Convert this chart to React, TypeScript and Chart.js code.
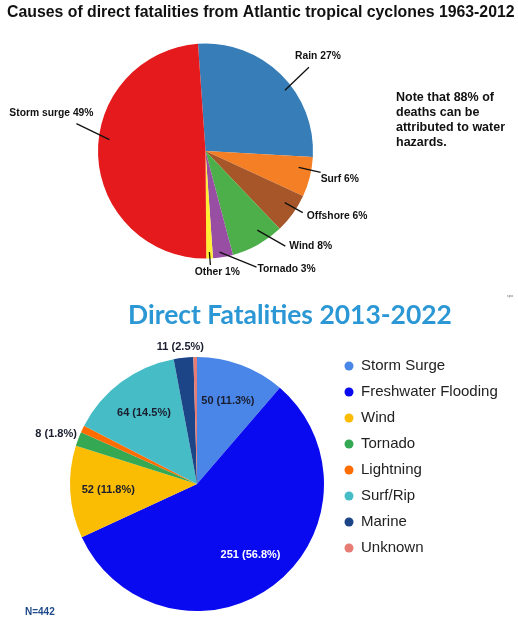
import { useEffect, useRef } from 'react';
import { Chart, registerables, type Plugin } from 'chart.js';

Chart.register(...registerables);

const FONT = '"Liberation Sans", Arial, Helvetica, sans-serif';

// Causes of direct fatalities 1963-2012 (percent)
const causeLabels = ['Rain', 'Surf', 'Offshore', 'Wind', 'Tornado', 'Other', 'Storm surge'];
const causePercents = [27, 6, 6, 8, 3, 1, 49];
const causeColors = ['#377eb8', '#f47f24', '#a65628', '#4daf4a', '#984ea3', '#ffee33', '#e41a1c'];

// Direct fatalities 2013-2022 (counts)
const recentLabels = [
  'Storm Surge',
  'Freshwater Flooding',
  'Wind',
  'Tornado',
  'Lightning',
  'Surf/Rip',
  'Marine',
  'Unknown',
];
const recentCounts = [50, 251, 52, 8, 4, 64, 11, 2];
const recentColors = ['#4a86e8', '#0a0af0', '#fbbc04', '#34a853', '#ff6d01', '#46bdc6', '#1c4587', '#e67c73'];

const noteLines = ['Note that 88% of', 'deaths can be', 'attributed to water', 'hazards.'];

// callout placement for the top pie (angle tweak in degrees, offsets in px)
const causeCallouts = [
  { da: 8, r: 0.93, dx: 24, dy: -23, tx: 9, ty: -11, align: 'center' }, // Rain
  { da: -4, r: 0.88, dx: 22, dy: 5, tx: 0, ty: 7, align: 'left' }, // Surf
  { da: -2.5, r: 0.88, dx: 18, dy: 10, tx: 4, ty: 4, align: 'left' }, // Offshore
  { da: -4, r: 0.88, dx: 28, dy: 16, tx: 4, ty: 0, align: 'left' }, // Wind
  { da: 1.5, r: 0.95, dx: 37, dy: 15, tx: 1, ty: 2, align: 'left' }, // Tornado
  { da: 0, r: 0.94, dx: 1, dy: 13, tx: 7, ty: 7, align: 'center' }, // Other
  { da: 9, r: 0.9, dx: -33, dy: -16, tx: -25, ty: -10, align: 'center' }, // Storm surge
] as const;

// where the value labels go on the bottom pie
const recentLabelMode = ['in', 'in-white', 'in', 'out-left', 'none', 'in', 'out-top', 'none'];

const fitFont = (ctx: CanvasRenderingContext2D, text: string, width: number, family: string) => {
  ctx.font = `bold 20px ${family}`;
  const size = (20 * width) / ctx.measureText(text).width;
  ctx.font = `bold ${size}px ${family}`;
};

type ArcProps = { x: number; y: number; startAngle: number; endAngle: number; outerRadius: number };

const causeOverlay: Plugin<'pie'> = {
  id: 'causeOverlay',
  afterDraw(chart) {
    const { ctx } = chart;
    const meta = chart.getDatasetMeta(0);
    ctx.save();

    // title
    const title = 'Causes of direct fatalities from Atlantic tropical cyclones 1963-2012';
    fitFont(ctx, title, 508, FONT);
    ctx.fillStyle = '#111';
    ctx.textAlign = 'left';
    ctx.textBaseline = 'middle';
    ctx.fillText(title, 7, 13);

    // callouts
    ctx.font = `bold 10.3px ${FONT}`;
    ctx.strokeStyle = '#111';
    ctx.lineWidth = 1.3;
    meta.data.forEach((el, i) => {
      const { x, y, startAngle, endAngle, outerRadius } = el.getProps(
        ['x', 'y', 'startAngle', 'endAngle', 'outerRadius'],
        true,
      ) as ArcProps;
      const c = causeCallouts[i];
      const mid = (startAngle + endAngle) / 2 + (c.da * Math.PI) / 180;
      const sx = x + Math.cos(mid) * outerRadius * c.r;
      const sy = y + Math.sin(mid) * outerRadius * c.r;
      const ex = sx + c.dx;
      const ey = sy + c.dy;
      ctx.beginPath();
      ctx.moveTo(sx, sy);
      ctx.lineTo(ex, ey);
      ctx.stroke();
      ctx.textAlign = c.align;
      ctx.fillText(`${causeLabels[i]} ${causePercents[i]}%`, ex + c.tx, ey + c.ty);
    });

    // note
    ctx.font = `bold 12.5px ${FONT}`;
    ctx.textAlign = 'left';
    noteLines.forEach((line, i) => ctx.fillText(line, 396, 98 + i * 15));
    ctx.restore();
  },
};

const recentOverlay: Plugin<'pie'> = {
  id: 'recentOverlay',
  afterDraw(chart) {
    const { ctx } = chart;
    const meta = chart.getDatasetMeta(0);
    const total = recentCounts.reduce((a, b) => a + b, 0);
    ctx.save();

    // title
    const title = 'Direct Fatalities 2013-2022';
    fitFont(ctx, title, 324, 'Lato, "Open Sans", sans-serif');
    ctx.fillStyle = '#2b98d5';
    ctx.textAlign = 'center';
    ctx.textBaseline = 'middle';
    ctx.fillText(title, 290, 25);

    ctx.font = `4px ${FONT}`;
    ctx.fillStyle = '#777';
    ctx.fillText('spo', 510, 6);

    // value labels
    ctx.font = `bold 11px ${FONT}`;
    meta.data.forEach((el, i) => {
      const mode = recentLabelMode[i];
      if (mode === 'none') return;
      const { x, y, startAngle, endAngle, outerRadius } = el.getProps(
        ['x', 'y', 'startAngle', 'endAngle', 'outerRadius'],
        true,
      ) as ArcProps;
      const mid = (startAngle + endAngle) / 2;
      const text = `${recentCounts[i]} (${((recentCounts[i] / total) * 100).toFixed(1)}%)`;
      let f = 0.7;
      let ox = 0;
      let oy = 0;
      ctx.textAlign = 'center';
      if (mode === 'out-left') {
        f = 1.02;
        ctx.textAlign = 'right';
        ox = 1;
        oy = -4;
      } else if (mode === 'out-top') {
        f = 1.08;
        ox = -2;
        oy = -1;
      }
      ctx.fillStyle = mode === 'in-white' ? '#ffffff' : '#1a1d2e';
      ctx.fillText(text, x + Math.cos(mid) * outerRadius * f + ox, y + Math.sin(mid) * outerRadius * f + oy);
    });

    // legend
    ctx.textAlign = 'left';
    ctx.font = `15px ${FONT}`;
    recentLabels.forEach((label, i) => {
      const ly = 76 + i * 26;
      ctx.fillStyle = recentColors[i];
      ctx.beginPath();
      ctx.arc(349, ly, 4.5, 0, Math.PI * 2);
      ctx.fill();
      ctx.fillStyle = '#222';
      ctx.fillText(label, 361, ly);
    });

    ctx.font = `bold 10px ${FONT}`;
    ctx.fillStyle = '#1f4a8a';
    ctx.fillText(`N=${total}`, 25, 322);
    ctx.restore();
  },
};

const CausesPie = () => {
  const canvasRef = useRef<HTMLCanvasElement>(null);
  useEffect(() => {
    if (!canvasRef.current) return;
    const chart = new Chart(canvasRef.current, {
      type: 'pie',
      data: {
        labels: causeLabels,
        datasets: [{ data: causePercents, backgroundColor: causeColors, borderWidth: 0 }],
      },
      options: {
        animation: false,
        responsive: true,
        maintainAspectRatio: false,
        rotation: -4,
        layout: { padding: { left: 98, right: 205, top: 43, bottom: 31 } },
        plugins: { legend: { display: false }, tooltip: { enabled: false } },
      },
      plugins: [causeOverlay],
    });
    return () => chart.destroy();
  }, []);
  return (
    <div style={{ position: 'relative', width: 518, height: 290 }}>
      <canvas ref={canvasRef} />
    </div>
  );
};

const RecentPie = () => {
  const canvasRef = useRef<HTMLCanvasElement>(null);
  useEffect(() => {
    if (!canvasRef.current) return;
    const chart = new Chart(canvasRef.current, {
      type: 'pie',
      data: {
        labels: recentLabels,
        datasets: [{ data: recentCounts, backgroundColor: recentColors, borderWidth: 0 }],
      },
      options: {
        animation: false,
        responsive: true,
        maintainAspectRatio: false,
        layout: { padding: { left: 70, right: 194, top: 67, bottom: 11 } },
        plugins: { legend: { display: false }, tooltip: { enabled: false } },
      },
      plugins: [recentOverlay],
    });
    return () => chart.destroy();
  }, []);
  return (
    <div style={{ position: 'relative', width: 518, height: 332 }}>
      <canvas ref={canvasRef} />
    </div>
  );
};

export default function App() {
  return (
    <div style={{ position: 'absolute', left: 0, top: 0, width: 518, height: 622, background: '#fff' }}>
      <CausesPie />
      <RecentPie />
    </div>
  );
}
